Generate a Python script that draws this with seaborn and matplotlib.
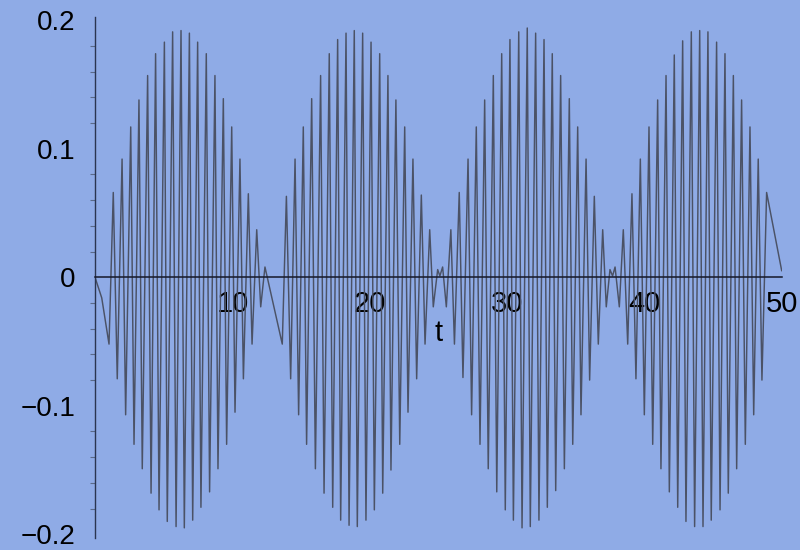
import matplotlib
matplotlib.use('Agg')
import matplotlib.pyplot as plt
from matplotlib.ticker import MultipleLocator
import pandas as pd
import seaborn as sns

# plotted curve, vertex by vertex
t_vals = [
    # first lobe
    0.00, 0.49, 1.02, 1.33, 1.62, 1.97, 2.23, 2.60, 2.84, 3.20, 3.44, 3.83, 4.08, 4.41,
    4.66, 5.05, 5.26, 5.65, 5.90, 6.26, 6.50, 6.87, 7.11, 7.47, 7.71, 8.10, 8.34, 8.73,
    8.95, 9.34, 9.58, 9.95, 10.19, 10.55, 10.80, 11.16, 11.43, 11.77, 12.06, 12.37, 13.63,
    # second lobe
    13.93, 14.24, 14.56, 14.82, 15.16, 15.40, 15.77, 16.04, 16.42, 16.67, 17.05, 17.30,
    17.66, 17.88, 18.27, 18.49, 18.87, 19.09, 19.48, 19.72, 20.09, 20.33, 20.72, 20.94,
    21.32, 21.54, 21.90, 22.18, 22.54, 22.78, 23.14, 23.41, 23.75, 24.02, 24.36, 24.62,
    24.94, 25.10, 25.30, 25.57, 25.90, 26.16, 26.51, 26.78,
    # third lobe
    27.15, 27.41, 27.75, 28.02, 28.36, 28.62, 28.99, 29.24, 29.60, 29.86, 30.20, 30.45,
    30.84, 31.08, 31.46, 31.68, 32.07, 32.31, 32.68, 32.92, 33.28, 33.53, 33.89, 34.16,
    34.52, 34.77, 35.13, 35.37, 35.74, 36.00, 36.34, 36.63, 36.95, 37.21, 37.48, 37.67,
    37.85, 38.16, 38.45, 38.77, 39.08, 39.37,
    # fourth lobe
    39.69, 39.98, 40.32, 40.59, 40.95, 41.19, 41.56, 41.80, 42.16, 42.41, 42.77, 43.01,
    43.40, 43.64, 44.01, 44.25, 44.61, 44.85, 45.24, 45.49, 45.85, 46.09, 46.46, 46.70,
    47.06, 47.33, 47.67, 47.94, 48.27, 48.54, 48.88, 49.98,
]
x_vals = [
    # first lobe
    0.000, -0.016, -0.052, 0.066, -0.079, 0.092, -0.107, 0.117, -0.130, 0.138, -0.149, 0.157, -0.168, 0.174,
    -0.181, 0.183, -0.190, 0.191, -0.194, 0.192, -0.195, 0.190, -0.189, 0.183, -0.179, 0.174, -0.167, 0.157,
    -0.149, 0.139, -0.130, 0.117, -0.105, 0.092, -0.079, 0.065, -0.052, 0.037, -0.023, 0.008, -0.052,
    # second lobe
    0.063, -0.079, 0.092, -0.107, 0.117, -0.130, 0.139, -0.149, 0.157, -0.168, 0.174, -0.179,
    0.185, -0.189, 0.190, -0.193, 0.192, -0.194, 0.190, -0.189, 0.183, -0.181, 0.174, -0.168,
    0.157, -0.150, 0.138, -0.130, 0.117, -0.105, 0.092, -0.079, 0.064, -0.052, 0.037, -0.023,
    0.006, 0.001, 0.008, -0.023, 0.037, -0.052, 0.066, -0.078,
    # third lobe
    0.092, -0.107, 0.117, -0.130, 0.138, -0.149, 0.157, -0.167, 0.174, -0.181, 0.185, -0.189,
    0.191, -0.195, 0.194, -0.194, 0.190, -0.189, 0.185, -0.179, 0.174, -0.166, 0.157, -0.149,
    0.139, -0.130, 0.117, -0.107, 0.092, -0.080, 0.063, -0.052, 0.037, -0.023, 0.006, 0.001,
    0.008, -0.023, 0.037, -0.052, 0.065, -0.079,
    # fourth lobe
    0.092, -0.107, 0.117, -0.130, 0.138, -0.149, 0.157, -0.167, 0.173, -0.179, 0.184, -0.190,
    0.191, -0.194, 0.192, -0.194, 0.191, -0.189, 0.183, -0.181, 0.174, -0.168, 0.157, -0.149,
    0.138, -0.130, 0.117, -0.107, 0.092, -0.080, 0.066, 0.005,
]

xtick_pos = [10, 20, 30, 40, 50]
xtick_labels = ['10', '20', '30', '40', '50']
ytick_pos = [-0.2, -0.1, 0, 0.1, 0.2]
ytick_labels = ['\u22120.2', '\u22120.1', '0', '0.1', '0.2']

BG = '#8fabe6'

sns.set_style('white', {'axes.facecolor': BG, 'figure.facecolor': BG,
                        'text.color': 'black', 'xtick.color': 'black',
                        'ytick.color': 'black'})
plt.rcParams['font.family'] = ['Liberation Sans', 'DejaVu Sans']

fig = plt.figure(figsize=(8, 5.5), dpi=100)
ax = fig.add_axes([0.11875, 0.0225, 0.85875, 0.9467])

df = pd.DataFrame({'t': t_vals, 'x': x_vals})
sns.lineplot(data=df, x='t', y='x', sort=False, estimator=None,
             color='#4b5266', linewidth=1.05, ax=ax)

ax.set_xlim(0, 50)
ax.set_ylim(-0.2026, 0.2026)

for s in ['top', 'right']:
    ax.spines[s].set_visible(False)
ax.spines['bottom'].set_position(('data', 0))
ax.spines['bottom'].set_color('#15182a')
ax.spines['left'].set_color('#2a3550')
ax.spines['bottom'].set_linewidth(1.1)
ax.spines['left'].set_linewidth(1.0)

ax.set_xticks(xtick_pos)
ax.set_xticklabels(xtick_labels)
ax.set_yticks(ytick_pos)
ax.set_yticklabels(ytick_labels)
ax.yaxis.set_minor_locator(MultipleLocator(0.02))
ax.tick_params(axis='x', length=0, pad=9.5, labelsize=21, labelcolor='black')
ax.tick_params(axis='y', which='major', direction='out', length=7.5, width=0.8,
               color='#2a3550', pad=6.5, labelsize=20, labelcolor='black')
ax.tick_params(axis='y', which='minor', direction='out', length=3.5, width=0.8,
               color='#5a6a8a', left=True)

ax.set_xlabel('t', fontsize=21, color='black')
ax.set_ylabel('')
ax.xaxis.set_label_coords(0.5, 0.42)

fig.savefig('out.png', dpi=100, facecolor=BG)
